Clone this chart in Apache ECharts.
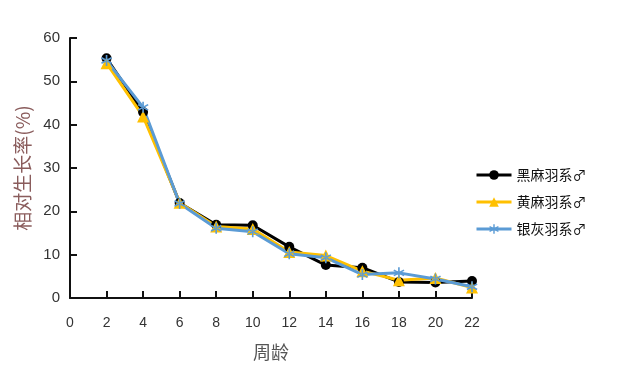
<!DOCTYPE html>
<html><head><meta charset="utf-8">
<script src="https://cdn.jsdelivr.net/npm/echarts@6/dist/echarts.min.js"></script>
<style>html,body{margin:0;padding:0;background:#fff}#c{width:632px;height:383px}</style>
</head><body><div id="c"></div>
<script>
var weeks = [2,4,6,8,10,12,14,16,18,20,22];
var blackHemp = [55.3,42.9,21.9,16.9,16.8,11.8,7.6,7.0,3.7,3.6,3.9];
var yellowHemp = [54.2,41.9,22.0,16.5,15.9,10.6,9.8,6.2,4.1,4.6,2.4];
var silverGrey = [54.8,44.0,21.8,16.1,15.3,10.2,9.3,5.4,5.8,4.4,2.6];
var names = ['黑麻羽系♂','黄麻羽系♂','银灰羽系♂'];
var xTicks = [0,2,4,6,8,10,12,14,16,18,20,22];
var yTicks = [0,10,20,30,40,50,60];

function pairs(v){ return weeks.map(function(w,i){return [w,v[i]];}); }
var asterisk = 'path://M-0.7,-5L0.7,-5L0.7,5L-0.7,5Z M3.98,3.106L4.68,1.894L-3.98,-3.106L-4.68,-1.894Z M3.98,-3.106L4.68,-1.894L-3.98,3.106L-4.68,1.894Z';

var chart = echarts.init(document.getElementById('c'));
chart.setOption({
  animation:false,
  backgroundColor:'#fff',
  grid:{left:70,right:160,top:38,bottom:85},
  legend:{
    orient:'vertical', left:470, top:163, itemWidth:35, itemHeight:12, itemGap:13,
    lineStyle:{width:3},
    textStyle:{fontFamily:'Noto Sans CJK SC',fontSize:14,color:'#111'},
    data:names
  },
  xAxis:{
    type:'value', min:0, max:22, interval:2,
    name:'周龄', nameLocation:'middle', nameGap:45,
    nameTextStyle:{fontFamily:'Noto Sans CJK SC',fontSize:18,color:'#555'},
    axisLine:{lineStyle:{color:'#111',width:2}},
    axisTick:{inside:true,length:7,lineStyle:{color:'#111',width:2}},
    axisLabel:{margin:18,fontFamily:'Liberation Sans',fontSize:14,color:'#333'},
    splitLine:{show:false}
  },
  yAxis:{
    type:'value', min:0, max:60, interval:10,
    name:'相对生长率(%)', nameLocation:'middle', nameGap:37, nameRotate:90,
    nameTextStyle:{fontFamily:'Noto Sans CJK SC',fontSize:19,color:'#8a5c5c'},
    axisLine:{show:true,lineStyle:{color:'#111',width:2}},
    axisTick:{show:true,inside:true,length:7,lineStyle:{color:'#111',width:2}},
    axisLabel:{margin:10,fontFamily:'Liberation Sans',fontSize:15,color:'#333'},
    splitLine:{show:false}
  },
  series:[
    {name:names[0],type:'line',data:pairs(blackHemp),symbol:'circle',symbolSize:10,
     itemStyle:{color:'#000'},lineStyle:{color:'#000',width:3}},
    {name:names[1],type:'line',data:pairs(yellowHemp),symbol:'triangle',symbolSize:12,
     itemStyle:{color:'#FFC000'},lineStyle:{color:'#FFC000',width:3}},
    {name:names[2],type:'line',data:pairs(silverGrey),symbol:asterisk,symbolSize:11,
     itemStyle:{color:'#5B9BD5'},lineStyle:{color:'#5B9BD5',width:3}}
  ]
});
</script></body></html>
